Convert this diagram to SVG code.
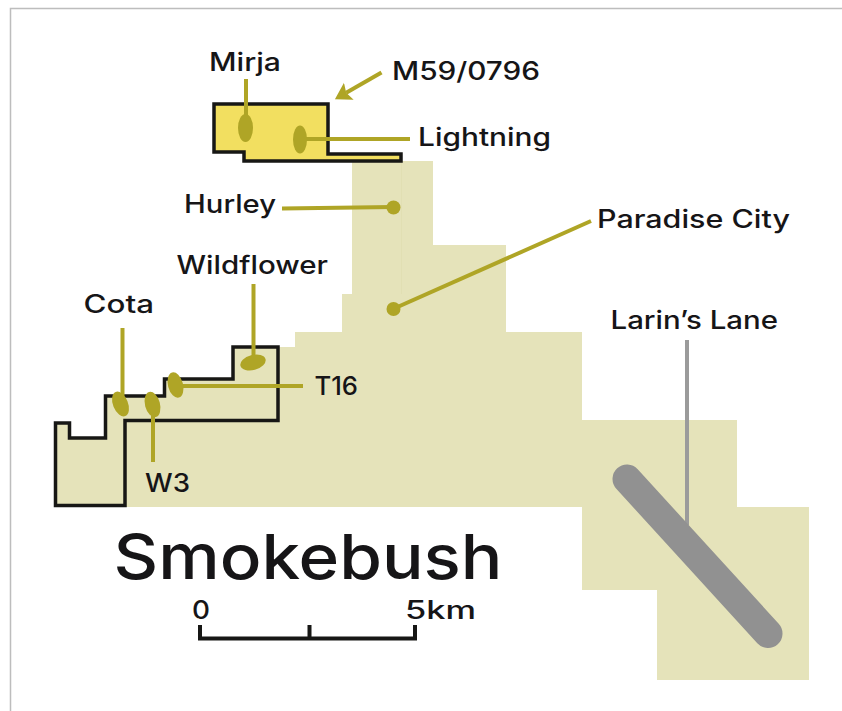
<svg xmlns="http://www.w3.org/2000/svg" width="842" height="711" viewBox="0 0 842 711">
<style>
text{font-family:"Inter","Noto Sans","Liberation Sans",sans-serif;font-weight:500;fill:#161517;font-size:25px;letter-spacing:0}
.tenement{stroke:#171715;stroke-width:3.500;stroke-linejoin:miter}
.lead{fill:none;stroke:#afa526;stroke-width:4}
.dep{fill:#afa526}
</style>
<defs>
<marker id="arrow" markerUnits="userSpaceOnUse" markerWidth="26" markerHeight="26" refX="3" refY="13" orient="auto">
<path d="M0 3.300L16 13L0 22.700L3 13Z" fill="#afa526"/>
</marker>
</defs>
<rect width="842" height="711" fill="#fff"/>
<path d="M842 8.500H10.500V711" fill="none" stroke="#bdbdbd" stroke-width="1.500"/>
<g id="map">
<path id="project-area" d="M352 161H433V245H506V332H582V420H737V507H809V680H657V590H582V507H125V396H165V379H233V347H295V332H342V294H352Z" fill="#e5e3ba"/>
<path d="M401.500 161V294" stroke="#e1dfb3" stroke-width="1" fill="none"/>
</g>
<g id="tenement-w"><path class="tenement" fill="#e5e3ba" d="M55.500 505.500V423H69.500V438H105.500V396H164.500V379H233V347H278V420.500H125V505.500Z"/></g>
<g id="tenement-m59"><path class="tenement" fill="#f2df60" d="M214 104H328V154H401V161H244V152H214Z"/></g>
<g id="connectors">
<path class="lead" d="M246 79V120"/>
<path class="lead" d="M381.500 72.500L346.200 92.700" marker-end="url(#arrow)"/>
<path class="lead" d="M300 139H410"/>
<path class="lead" d="M282 208.500L393 207"/>
<path class="lead" d="M393 309L591 221"/>
<path class="lead" d="M253.500 284V356"/>
<path class="lead" d="M122.500 328V402"/>
<path class="lead" d="M176 386H303"/>
<path class="lead" d="M153 405V462"/>
<path d="M687 340V525" fill="none" stroke="#9b9b9b" stroke-width="4"/>
</g>
<g id="mirja"><ellipse class="dep" cx="245.500" cy="128" rx="7.500" ry="14"/><text x="209" y="71" textLength="72" lengthAdjust="spacingAndGlyphs">Mirja</text></g>
<g id="m59"><text x="392" y="80" textLength="148" lengthAdjust="spacingAndGlyphs">M59/0796</text></g>
<g id="lightning"><ellipse class="dep" cx="300" cy="139.500" rx="7" ry="14"/><text x="418" y="146" textLength="133" lengthAdjust="spacingAndGlyphs">Lightning</text></g>
<g id="hurley"><circle class="dep" cx="393.500" cy="207.500" r="7"/><text x="184" y="213" textLength="92" lengthAdjust="spacingAndGlyphs">Hurley</text></g>
<g id="paradise-city"><circle class="dep" cx="393.500" cy="309" r="7"/><text x="597" y="228" textLength="193" lengthAdjust="spacingAndGlyphs">Paradise City</text></g>
<g id="wildflower"><ellipse class="dep" cx="253" cy="362.500" rx="13" ry="7.500" transform="rotate(-15 253 362.500)"/><text x="176.500" y="274" textLength="151.500" lengthAdjust="spacingAndGlyphs">Wildflower</text></g>
<g id="cota"><ellipse class="dep" cx="120.500" cy="404" rx="7.500" ry="13" transform="rotate(-22 120.500 404)"/><text x="83.500" y="313" textLength="70.500" lengthAdjust="spacingAndGlyphs">Cota</text></g>
<g id="w3"><ellipse class="dep" cx="152.500" cy="404.500" rx="7.500" ry="13" transform="rotate(-15 152.500 404.500)"/><text x="145" y="492" textLength="45" lengthAdjust="spacingAndGlyphs">W3</text></g>
<g id="t16"><ellipse class="dep" cx="175.500" cy="385" rx="7.500" ry="13" transform="rotate(-15 175.500 385)"/><text x="314.500" y="395" textLength="43.500" lengthAdjust="spacingAndGlyphs">T16</text></g>
<g id="larins-lane"><path d="M627 479L768 633.500" fill="none" stroke="#919191" stroke-width="29" stroke-linecap="round"/><text x="610.500" y="329" textLength="167.500" lengthAdjust="spacingAndGlyphs">Larin’s Lane</text></g>
<g id="title"><text x="113.500" y="579" style="font-size:62px" textLength="389" lengthAdjust="spacingAndGlyphs">Smokebush</text></g>
<g id="scale">
<path d="M200 625V638.500H415V625M309.500 625V638.500" fill="none" stroke="#171715" stroke-width="4"/>
<text x="192" y="619" textLength="18" lengthAdjust="spacingAndGlyphs">0</text>
<text x="405" y="619" textLength="71" lengthAdjust="spacingAndGlyphs">5km</text>
</g>
</svg>
